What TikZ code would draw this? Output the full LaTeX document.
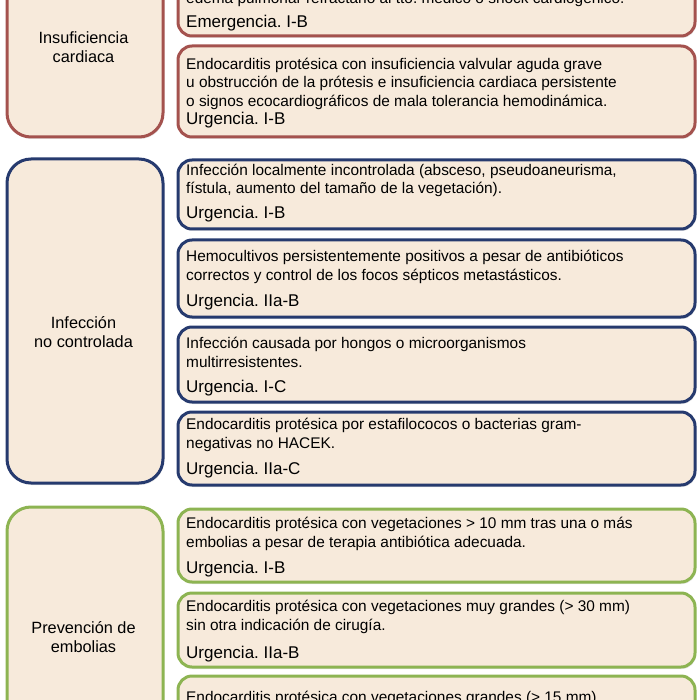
\documentclass[tikz,border=0pt]{standalone}
\usepackage{fontspec}
\setmainfont{Liberation Sans}
\usetikzlibrary{shadows}
\frenchspacing

\definecolor{boxfill}{RGB}{247,234,219}
\definecolor{hfred}{RGB}{164,82,78}
\definecolor{infblue}{RGB}{38,58,110}
\definecolor{embgreen}{RGB}{141,180,82}

\begin{document}
\begin{tikzpicture}[
  x=1pt, y=-1pt,
  catbox/.style={draw=#1, line width=3pt, fill=boxfill, rounded corners=24pt, minimum width=156pt, anchor=north west, inner sep=0pt,
    drop shadow={opacity=0.18, shadow xshift=1pt, shadow yshift=-2pt}},
  itembox/.style={draw=#1, line width=3pt, fill=boxfill, rounded corners=14pt, minimum width=517pt, anchor=north west, inner sep=0pt,
    drop shadow={opacity=0.18, shadow xshift=1pt, shadow yshift=-2pt}},
  cattext/.style={font=\fontsize{16.3}{19.5}\selectfont, align=center, inner sep=0pt},
  desc/.style={font=\fontsize{15.4}{18.5}\selectfont, align=left, anchor=base west, inner sep=0pt},
  grade/.style={font=\fontsize{17}{20}\selectfont, anchor=base west, inner sep=0pt}
]
\useasboundingbox (0,0) rectangle (700,700);
\clip (0,0) rectangle (700,700);

% categories
\node[catbox=hfred, minimum height=235.5pt] (hfcat) at (5.5,-100) {};
\node[catbox=infblue, minimum height=324pt] (infcat) at (5.5,157.5) {};
\node[catbox=embgreen, minimum height=294.5pt] (embcat) at (5.5,505.5) {};

\node[cattext] (hfname) at (83.5,47) {Insuficiencia\\cardiaca};
\node[cattext] (infname) at (83.5,332) {Infección\\no controlada};
\node[cattext] (embname) at (83.5,637) {Prevención de\\embolias};

% insuficiencia cardiaca (base = last line)
\node[itembox=hfred, minimum height=94.5pt] (hf1) at (176.5,-60) {};
\node[itembox=hfred, minimum height=91pt] (hf2) at (176.5,44.5) {};
\node[desc] (hf1txt) at (186,4) {edema pulmonar refractario al tto. médico o shock cardiogénico.};
\node[grade] (hf1urg) at (186,28) {Emergencia. I-B};
\node[desc] (hf2txt) at (186,106.5) {Endocarditis protésica con insuficiencia valvular aguda grave\\u obstrucción de la prótesis e insuficiencia cardiaca persistente\\o signos ecocardiográficos de mala tolerancia hemodinámica.};
\node[grade] (hf2urg) at (186,125) {Urgencia. I-B};

% infeccion no controlada
\node[itembox=infblue, minimum height=69pt] (inf1) at (176.5,158.5) {};
\node[itembox=infblue, minimum height=77pt] (inf2) at (176.5,238.5) {};
\node[itembox=infblue, minimum height=75pt] (inf3) at (176.5,325.5) {};
\node[itembox=infblue, minimum height=73pt] (inf4) at (176.5,410.5) {};
\node[desc] (inf1txt) at (186,194) {Infección localmente incontrolada (absceso, pseudoaneurisma,\\fístula, aumento del tamaño de la vegetación).};
\node[grade] (inf1urg) at (186,219) {Urgencia. I-B};
\node[desc] (inf2txt) at (186,280) {Hemocultivos persistentemente positivos a pesar de antibióticos\\correctos y control de los focos sépticos metastásticos.};
\node[grade] (inf2urg) at (186,306.5) {Urgencia. IIa-B};
\node[desc] (inf3txt) at (186,367) {Infección causada por hongos o microorganismos\\multirresistentes.};
\node[grade] (inf3urg) at (186,392.5) {Urgencia. I-C};
\node[desc] (inf4txt) at (186,448) {Endocarditis protésica por estafilococos o bacterias gram-\\negativas no HACEK.};
\node[grade] (inf4urg) at (186,474.5) {Urgencia. IIa-C};

% prevencion de embolias
\node[itembox=embgreen, minimum height=73pt] (emb1) at (176.5,507.5) {};
\node[itembox=embgreen, minimum height=74pt] (emb2) at (176.5,591.5) {};
\node[itembox=embgreen, minimum height=86pt] (emb3) at (176.5,674.5) {};
\node[desc] (emb1txt) at (186,547) {Endocarditis protésica con vegetaciones > 10 mm tras una o más\\embolias a pesar de terapia antibiótica adecuada.};
\node[grade] (emb1urg) at (186,573) {Urgencia. I-B};
\node[desc] (emb2txt) at (186,630) {Endocarditis protésica con vegetaciones muy grandes (> 30 mm)\\sin otra indicación de cirugía.};
\node[grade] (emb2urg) at (186,658) {Urgencia. IIa-B};
\node[desc] (emb3txt) at (186,702) {Endocarditis protésica con vegetaciones grandes (> 15 mm)};
\end{tikzpicture}
\end{document}
